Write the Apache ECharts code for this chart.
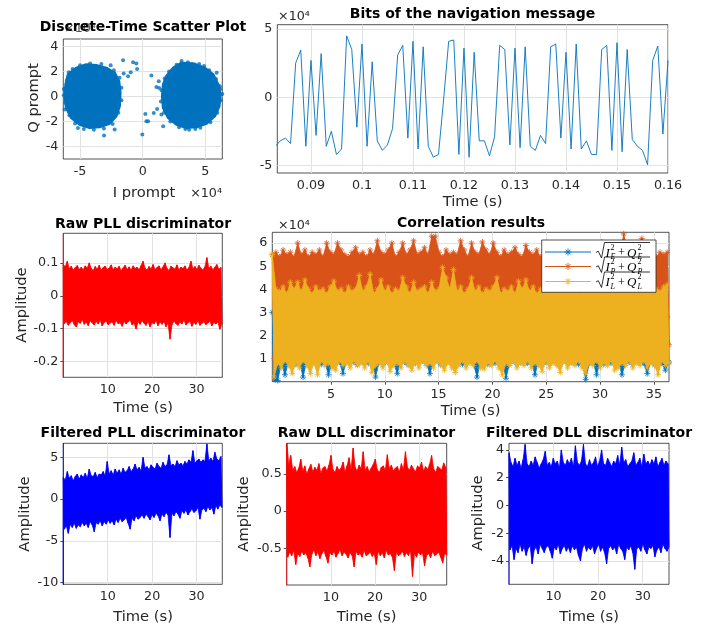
<!DOCTYPE html>
<html><head><meta charset="utf-8">
<script src="https://cdn.jsdelivr.net/npm/echarts@6/dist/echarts.min.js"></script>
<style>html,body{margin:0;padding:0;background:#fff}#c{width:702px;height:630px}</style>
</head><body><div id="c"></div>
<script>
// ---------------- DATA ----------------
// Scatter (units of 1e4): outlines of the two dense clusters + isolated points
const clusterLeft = [[-5.97,1.76],[-5.31,2.29],[-4.51,2.56],[-3.71,2.51],[-2.91,2.29],[-2.24,1.89],[-1.89,1.23],[-1.79,0.29],[-1.84,-0.77],[-2.11,-1.57],[-2.64,-2.16],[-3.44,-2.45],[-4.24,-2.51],[-5.04,-2.24],[-5.71,-1.71],[-6.11,-0.91],[-6.24,0.03],[-6.16,0.96]];
const clusterRight = [[1.89,1.63],[2.43,2.29],[3.09,2.69],[4.03,2.64],[4.96,2.29],[5.63,1.76],[6.03,0.96],[6.21,0.16],[6.11,-0.77],[5.76,-1.57],[5.09,-2.16],[4.29,-2.45],[3.49,-2.51],[2.69,-2.24],[2.03,-1.71],[1.63,-0.91],[1.55,0.03],[1.63,0.96]];
const scatterPoints = [[-1.57,2.91],[-2.56,2.51],[-1.52,1.84],[-1.17,1.63],[-0.77,2.75],[-0.51,2.64],[-0.96,1.95],[-0.45,2.21],[0.69,1.68],[1.28,1.23],[1.09,0.77],[1.31,0.69],[0.21,-1.39],[0.29,-1.97],[0.43,-1.97],[0.88,-1.31],[1.15,-0.99],[1.49,-1.44],[1.63,-2.37],[-0.03,-3.04],[-3.09,-3.12],[-2.24,-2.64],[-5.17,-2.51],[-6.3,0.1],[-6.24,-1.04],[6.16,0.83],[6.35,0.21],[6.0,-0.5],[4.2,-2.6],[3.4,-2.6],[5.9,1.9],[4.9,2.45],[3.1,2.85],
 [-5.9,1.95],[-6.05,1.3],[-6.3,0.6],[-6.2,-0.5],[-5.85,-1.5],[-5.4,-2.15],[-4.7,-2.6],[-3.9,-2.65],[-3.1,-2.55],[-2.4,-2.2],[-1.95,-1.3],[-1.7,-0.3],[-1.7,0.7],[-1.85,1.5],[-2.3,2.1],[-3.3,2.6],[-4.2,2.65],[-5.0,2.5],[-5.6,2.2],
 [1.75,1.45],[1.5,0.5],[1.45,-0.4],[1.7,-1.3],[2.2,-2.0],[2.9,-2.45],[3.7,-2.65],[4.6,-2.5],[5.4,-2.05],[5.95,-1.3],[6.25,-0.3],[6.2,0.6],[5.85,1.4],[5.3,2.1],[4.5,2.6],[3.6,2.75],[2.7,2.55],[2.1,2.0]];

// Navigation bits (units of 1e4), one sample per ms starting at 0.083 s
const navStart = 0.083, navStep = 0.001;
const navValues = [-3.6,-3.2,-3.0,-3.4,2.5,3.45,-3.6,2.7,-2.8,3.2,
 -3.6,-2.5,-4.2,-3.8,4.5,3.5,-2.2,3.9,-3.6,2.6,
 -3.2,-3.9,-3.5,-2.3,3.1,3.8,-3.0,4.1,-3.8,3.7,
 -3.6,-4.4,-4.2,-0.2,4.1,4.2,-4.2,3.6,-4.4,3.3,
 -3.2,-3.2,-4.3,-2.9,3.8,3.5,-3.5,3.6,-3.7,3.7,
 -3.6,-3.9,-2.8,-3.4,3.7,3.9,-3.0,3.3,-3.8,3.9,
 -3.8,-3.2,-4.2,-4.2,3.5,3.8,-3.9,4.0,-4.0,3.5,
 -3.1,-3.6,-3.9,-4.95,2.7,3.75,-2.7,2.7];

// Noise bands: per-column upper / lower extremes
const rawPllStart = [0.3,-0.3];
const rawPllUpper = [0.095,0.088,0.105,0.082,0.09,0.078,0.086,0.092,0.08,0.087,0.079,0.091,0.084,0.1,0.083,0.077,0.089,0.081,0.093,0.078,
 0.086,0.09,0.08,0.084,0.094,0.079,0.087,0.082,0.09,0.076,0.085,0.093,0.08,0.088,0.078,0.091,0.083,0.087,0.079,0.092,
 0.105,0.084,0.078,0.089,0.082,0.095,0.08,0.086,0.091,0.079,0.088,0.1,0.083,0.077,0.09,0.085,0.081,0.094,0.079,0.087,
 0.083,0.091,0.078,0.086,0.105,0.082,0.089,0.08,0.093,0.084,0.078,0.088,0.116,0.083,0.09,0.079,0.087,0.095,0.081,0.086];
const rawPllLower = [-0.085,-0.078,-0.09,-0.082,-0.075,-0.088,-0.095,-0.079,-0.084,-0.072,-0.087,-0.08,-0.091,-0.076,-0.083,-0.089,-0.078,-0.086,-0.074,-0.092,
 -0.081,-0.077,-0.088,-0.083,-0.079,-0.09,-0.075,-0.085,-0.082,-0.093,-0.078,-0.086,-0.08,-0.074,-0.089,-0.083,-0.101,-0.079,-0.087,-0.076,
 -0.084,-0.09,-0.078,-0.095,-0.082,-0.086,-0.075,-0.091,-0.08,-0.087,-0.079,-0.094,-0.083,-0.132,-0.088,-0.077,-0.085,-0.09,-0.08,-0.086,
 -0.074,-0.089,-0.082,-0.078,-0.093,-0.081,-0.087,-0.076,-0.09,-0.084,-0.079,-0.088,-0.083,-0.077,-0.092,-0.081,-0.086,-0.08,-0.102,-0.085];

const filtPllStart = [7,-10.6];
const filtPllUpper = [2.6,2.3,3.3,2.5,2.8,2.2,2.7,3.0,2.4,2.9,
 2.6,3.1,2.5,3.6,2.8,2.7,3.2,2.6,3.0,2.9,
 3.3,2.8,4.5,3.0,3.4,2.9,3.6,3.1,3.5,3.0,
 3.7,3.2,3.4,3.9,3.3,3.6,4.2,3.5,3.8,3.4,
 5.0,3.7,3.9,3.5,4.1,3.8,3.6,4.3,3.9,3.7,
 4.4,3.9,4.1,5.3,4.0,4.2,3.9,4.6,4.1,4.3,
 4.0,4.5,4.2,4.7,4.4,5.8,4.3,4.6,4.8,4.4,
 4.7,4.5,6.6,4.6,4.9,4.5,5.6,4.8,4.6,5.1];
const filtPllLower = [-3.6,-3.2,-4.1,-3.0,-3.4,-2.9,-3.5,-3.1,-3.3,-2.8,
 -3.2,-2.9,-3.4,-2.7,-3.1,-3.9,-2.8,-3.0,-2.6,-3.2,
 -2.7,-3.0,-2.5,-2.9,-2.6,-3.1,-2.4,-2.8,-2.3,-2.7,
 -2.5,-2.2,-2.9,-3.6,-2.3,-2.6,-2.0,-2.4,-2.2,-1.9,
 -2.3,-1.8,-2.1,-2.5,-1.9,-2.2,-1.7,-2.0,-2.6,-1.8,
 -2.1,-1.6,-1.9,-4.6,-1.7,-2.0,-1.5,-1.8,-2.3,-1.4,
 -1.7,-1.3,-1.9,-1.5,-1.2,-1.6,-1.4,-1.0,-2.4,-1.3,
 -1.1,-1.5,-0.9,-1.3,-1.0,-1.8,-0.8,-1.2,-0.7,-1.0];

const rawDllStart = [-1.1];
const rawDllUpper = [0.95,0.62,0.75,0.55,0.6,0.52,0.58,0.7,0.54,0.61,
 0.5,0.57,0.63,0.53,0.59,0.55,0.64,0.51,0.58,0.6,
 0.54,0.62,0.75,0.56,0.52,0.6,0.55,0.58,0.66,0.53,
 0.61,0.72,0.56,0.85,0.59,0.54,0.62,0.57,0.8,0.55,
 0.6,0.53,0.58,0.63,0.7,0.56,0.52,0.59,0.61,0.55,
 0.76,0.57,0.62,0.54,0.58,0.6,0.53,0.64,0.56,0.8,
 0.59,0.55,0.62,0.57,0.53,0.61,0.58,0.66,0.54,0.6,
 0.56,0.63,0.75,0.57,0.52,0.6,0.58,0.55,0.65,0.59];
const rawDllLower = [-0.62,-0.55,-0.6,-0.53,-0.72,-0.57,-0.61,-0.54,-0.59,-0.56,
 -0.63,-0.75,-0.58,-0.52,-0.6,-0.55,-0.64,-0.57,-0.53,-0.61,
 -0.7,-0.56,-0.59,-0.54,-0.62,-0.57,-0.52,-0.6,-0.55,-0.58,
 -0.63,-0.56,-0.6,-0.75,-0.54,-0.59,-0.57,-0.62,-0.53,-0.6,
 -0.58,-0.55,-0.61,-0.57,-0.72,-0.54,-0.6,-0.56,-0.63,-0.53,
 -0.59,-0.57,-0.62,-0.8,-0.55,-0.6,-0.58,-0.54,-0.61,-0.56,
 -0.6,-0.53,-0.88,-0.57,-0.62,-0.55,-0.59,-0.56,-0.74,-0.6,
 -0.57,-0.63,-0.54,-0.6,-0.58,-0.55,-0.62,-0.7,-0.57,-0.59];

const filtDllStart = [-6];
const filtDllUpper = [3.8,3.1,2.8,3.4,2.9,3.2,2.7,3.3,4.4,3.0,
 2.8,3.2,2.9,3.5,3.1,2.7,3.0,3.3,3.9,2.9,
 3.1,2.8,3.4,3.0,3.2,2.7,4.0,3.1,2.9,3.3,
 3.0,3.4,2.8,4.3,3.1,2.9,3.2,4.4,3.0,2.8,
 3.3,2.9,3.1,3.5,2.8,3.2,4.0,3.0,2.9,3.4,
 3.1,2.8,3.2,3.0,3.6,2.9,4.2,3.1,3.3,2.8,
 3.0,3.2,3.8,2.9,3.1,3.4,2.8,3.7,3.0,3.2,
 2.9,3.3,3.0,3.5,2.8,3.1,3.4,2.9,3.2,3.0];
const filtDllLower = [-3.2,-2.9,-3.9,-3.1,-3.4,-2.8,-3.3,-3.0,-3.6,-3.1,
 -2.9,-4.2,-3.2,-3.0,-3.5,-2.8,-3.1,-3.4,-3.0,-2.9,
 -3.3,-3.8,-3.0,-3.2,-2.8,-3.5,-3.1,-2.9,-3.3,-3.0,
 -3.4,-2.9,-3.2,-3.0,-3.6,-4.0,-3.1,-2.8,-3.3,-3.0,
 -3.2,-2.9,-3.5,-3.1,-2.8,-3.3,-3.0,-3.4,-4.2,-3.1,
 -2.9,-3.2,-3.0,-3.5,-2.8,-3.1,-3.3,-3.9,-3.0,-3.2,
 -2.9,-3.4,-4.6,-3.1,-3.0,-3.3,-2.8,-3.2,-3.5,-3.0,
 -3.1,-2.9,-3.7,-3.2,-3.0,-3.4,-2.8,-3.1,-3.3,-3.0];

// Correlation results (units of 1e4)
const corrEUpper = [3.0,3.5,3.4,3.6,3.3,3.5,3.7,3.4,3.6,3.3,
 3.5,3.6,3.4,3.7,3.3,3.5,3.4,3.6,3.5,3.3,
 3.6,3.4,3.5,3.7,3.3,3.6,3.4,3.5,3.6,3.3,
 3.5,3.7,3.4,3.6,3.3,3.5,3.4,3.6,3.7,3.4,
 3.5,3.3,3.6,3.4,3.5,3.7,3.3,3.6,3.4,3.5,
 3.6,3.4,3.3,3.5,3.7,3.4,3.6,3.5,3.3,3.6,
 3.4,3.5,3.7,3.3,3.6,3.4,3.5,3.6,3.3,3.5,
 3.7,3.4,3.6,3.5,3.3,3.6,3.4,3.5,3.7,3.3,
 3.5,3.6,3.4,3.5,3.3,3.7,3.4,3.6,3.5,3.3,
 3.6,3.4,3.5,3.7,3.3,3.5,3.6,3.4,3.5,3.6,
 3.4,3.5,3.3,3.7,3.5,3.4,3.6,3.5,3.0,2.8];
const corrELower = [-0.2,0.05,0.8,0.3,0.85,0.9,0.75,0.85,0.2,0.9,
 0.8,0.85,0.9,0.75,0.85,0.3,0.8,0.9,0.85,0.35,
 0.9,0.8,0.85,0.75,0.9,0.85,0.8,0.9,0.2,0.85,
 0.75,0.9,0.85,0.8,0.35,0.9,0.85,0.75,0.9,0.8,
 0.85,0.9,0.8,0.35,0.85,0.9,0.75,0.8,0.9,0.85,
 0.8,0.9,0.75,0.85,0.9,0.8,0.2,0.85,0.9,0.75,
 0.85,0.8,0.9,0.85,0.15,0.8,0.9,0.75,0.85,0.9,
 0.8,0.85,0.3,0.9,0.75,0.85,0.8,0.9,0.85,0.75,
 0.9,0.8,0.85,0.9,0.75,0.85,0.1,0.8,0.9,0.3,
 0.85,0.75,0.9,0.8,0.85,0.9,0.3,0.8,0.85,0.75,
 0.9,0.85,0.8,0.35,0.9,0.75,0.85,0.8,0.5,0.85];
const corrPUpper = [5.5,5.6,5.4,5.7,5.5,5.6,5.4,6.0,5.5,5.7,
 5.4,5.6,5.5,5.7,5.4,6.0,5.6,5.5,6.0,5.7,
 5.5,5.4,5.6,5.8,5.5,5.6,5.4,5.7,5.5,6.1,
 5.6,5.5,5.7,6.0,5.4,5.6,6.0,5.5,5.7,6.1,
 5.5,5.6,5.8,5.5,6.3,6.3,5.6,5.4,5.7,5.5,
 5.6,5.5,6.1,5.7,5.4,6.0,5.6,5.5,6.05,5.7,
 5.5,6.0,5.6,5.4,5.7,5.5,5.6,5.8,5.5,5.4,
 5.9,5.6,5.5,5.7,5.4,5.6,5.5,5.7,5.6,5.4,
 5.5,5.7,5.6,5.4,5.5,5.8,5.6,5.5,6.0,5.4,
 5.6,6.05,5.5,5.7,5.4,5.6,5.5,6.4,5.6,5.5,
 5.7,5.4,6.2,5.6,5.5,5.7,5.4,5.6,5.5,5.6];
const corrPLower = [1.0,2.1,1.8,2.4,1.9,2.2,1.7,2.3,2.0,1.8,
 2.2,1.9,2.4,1.7,2.1,2.0,2.3,1.8,2.2,1.9,
 2.0,2.4,1.8,2.1,1.9,2.3,1.7,2.2,2.0,1.8,
 2.3,1.9,2.1,2.4,1.8,2.0,2.2,1.9,2.3,1.7,
 2.1,2.0,1.8,2.2,1.9,2.4,2.0,1.8,2.1,2.3,
 1.9,2.2,1.7,2.0,2.3,1.8,2.1,1.9,2.4,2.0,
 1.8,2.2,2.0,1.9,2.3,1.7,2.1,2.0,1.8,2.2,
 2.0,1.9,2.3,1.8,2.1,2.2,1.9,2.0,2.4,1.8,
 2.1,2.0,1.8,2.3,1.9,2.2,2.0,1.7,2.1,2.3,
 1.9,2.0,2.2,1.8,2.1,2.4,1.9,2.0,1.8,2.2,
 2.0,2.3,1.9,2.1,1.8,2.2,2.0,1.9,2.1,1.6];
const corrLUpper = [5.5,4.0,3.9,4.1,3.8,4.3,4.0,4.3,3.9,4.4,
 4.0,3.8,4.1,3.9,4.0,3.8,4.1,4.35,3.9,4.0,
 3.8,4.1,3.9,4.0,4.6,3.9,4.1,4.65,3.8,4.0,
 4.4,3.9,4.1,3.8,4.0,3.9,4.5,4.1,3.8,4.3,
 3.9,4.0,4.1,3.8,4.3,3.9,4.0,4.95,4.5,4.0,
 4.85,3.9,4.1,3.8,4.0,4.5,3.9,4.1,3.8,4.0,
 3.9,4.1,4.5,3.8,4.0,3.9,4.1,3.8,4.35,4.0,
 4.4,3.9,4.1,3.8,4.0,3.9,4.1,3.8,4.0,3.9,
 4.1,3.8,4.0,3.9,4.1,3.8,4.0,3.9,4.1,3.8,
 4.0,3.9,4.1,3.8,4.0,3.9,4.1,3.8,4.0,3.9,
 4.1,3.8,4.0,3.9,4.1,3.8,4.0,3.9,4.1,4.2];
const corrLLower = [0.2,0.8,0.6,0.9,0.7,0.35,0.8,0.6,0.9,0.7,
 0.35,0.8,0.3,0.9,0.7,0.8,0.6,0.5,0.9,0.7,
 0.8,0.6,0.9,0.7,0.8,0.6,0.9,0.4,0.7,0.8,
 0.6,0.9,0.45,0.7,0.8,0.6,0.9,0.7,0.5,0.8,
 0.6,0.9,0.7,0.8,0.6,0.9,0.7,0.5,0.8,0.6,
 0.4,0.7,0.9,0.6,0.8,0.7,0.9,0.6,0.55,0.8,
 0.7,0.9,0.6,0.3,0.8,0.7,0.9,0.6,0.8,0.7,
 0.9,0.6,0.8,0.7,0.45,0.9,0.6,0.8,0.7,0.4,
 0.9,0.6,0.8,0.7,0.9,0.6,0.35,0.8,0.7,0.9,
 0.6,0.8,0.7,0.9,0.5,0.6,0.8,0.7,0.9,0.6,
 0.8,0.7,0.9,0.6,0.8,0.7,0.3,0.9,0.7,0.8];

// Axis ticks
const xTicks = [[-5,0,5],[0.09,0.1,0.11,0.12,0.13,0.14,0.15,0.16],[10,20,30],[5,10,15,20,25,30,35],[10,20,30],[10,20,30],[10,20,30]];
const yTicks = [[-4,-2,0,2,4],[-5,0,5],[-0.2,-0.1,0,0.1],[1,2,3,4,5,6],[-10,-5,0,5],[-0.5,0,0.5],[-4,-2,0,2,4]];
const xRanges = [[-6.34,6.35],[0.0834,0.16],[0,35.8],[-0.45,36.4],[0,35.8],[0,36.2],[0,35.9]];
const yRanges = [[-5,4.6],[-5.56,5.32],[-0.248,0.19],[0,6.47],[-10.2,6.68],[-0.995,0.914],[-5.68,4.48]];
const titles = ['Discrete-Time Scatter Plot','Bits of the navigation message','Raw PLL discriminator','Correlation results','Filtered PLL discriminator','Raw DLL discriminator','Filtered DLL discriminator'];

// ---------------- LAYOUT ----------------
const INK = '#262626';
const FONT = '"DejaVu Sans", sans-serif';
const BLUE = '#0072BD', ORANGE = '#D95319', YELLOW = '#EDB120';
const G = [
 {l:63.3,t:39,w:159,h:120},
 {l:277.3,t:24.7,w:390.7,h:148.3},
 {l:63.3,t:233.3,w:159,h:144},
 {l:272.3,t:232.3,w:396.7,h:149.4},
 {l:63.3,t:443.3,w:159,h:141},
 {l:286.7,t:443.3,w:160,h:141.7},
 {l:509,t:443.3,w:160,h:141}
];

const grid = [], xAxis = [], yAxis = [], series = [];
G.forEach((r, g) => {
  grid.push({left:r.l, top:r.t, width:r.w, height:r.h, show:true, backgroundColor:'#fff', borderColor:INK, borderWidth:0.8, containLabel:false, outerBoundsMode:'none'});
  const tickStyle = {inside:true, length:3, lineStyle:{color:INK, width:0.8}};
  const lab = {fontFamily:FONT, fontSize:12.7, color:INK, formatter:v=>String(v)};
  xAxis.push({type:'value', gridIndex:g, position:'bottom', min:xRanges[g][0], max:xRanges[g][1],
    axisLine:{show:false}, splitLine:{show:false},
    axisTick:Object.assign({customValues:xTicks[g]}, tickStyle),
    axisLabel:Object.assign({customValues:xTicks[g], margin:6}, lab)});
  xAxis.push({type:'value', gridIndex:g, position:'top', min:xRanges[g][0], max:xRanges[g][1],
    axisLine:{show:false}, splitLine:{show:false}, axisLabel:{show:false},
    axisTick:Object.assign({customValues:xTicks[g]}, tickStyle)});
  yAxis.push({type:'value', gridIndex:g, position:'left', min:yRanges[g][0], max:yRanges[g][1],
    axisLine:{show:false}, splitLine:{show:false},
    axisTick:Object.assign({customValues:yTicks[g]}, tickStyle),
    axisLabel:Object.assign({customValues:yTicks[g], margin:5}, lab)});
  yAxis.push({type:'value', gridIndex:g, position:'right', min:yRanges[g][0], max:yRanges[g][1],
    axisLine:{show:false}, splitLine:{show:false}, axisLabel:{show:false},
    axisTick:Object.assign({customValues:yTicks[g]}, tickStyle)});
  // grid lines (behind the data)
  series.push({type:'line', xAxisIndex:2*g, yAxisIndex:2*g, z:1, silent:true, showSymbol:false,
    data:[[xTicks[g][0], yTicks[g][0]]], lineStyle:{width:0},
    markLine:{z:1, silent:true, symbol:['none','none'], label:{show:false}, animation:false,
      lineStyle:{color:'#e2e2e2', width:1, type:'solid'}, emphasis:{disabled:true},
      data:[...xTicks[g].map(v=>({xAxis:v})), ...yTicks[g].map(v=>({yAxis:v}))]}});
});

// zig-zag through the per-column extremes
function bandPoints(t0, t1, upper, lower) {
  const n = Math.min(upper.length, lower.length);
  const dt = (t1 - t0) / (n - 0.5);
  const top = [], bot = [];
  for (let i = 0; i < n; i++) { top.push([t0 + i*dt, upper[i]]); bot.push([t0 + (i+0.5)*dt, lower[i]]); }
  return {top, bot};
}
function addBand(g, t0, t1, upper, lower, start, color, z, extra) {
  const {top, bot} = bandPoints(t0, t1, upper, lower);
  const outline = top.concat(bot.slice().reverse());
  series.push({type:'custom', xAxisIndex:2*g, yAxisIndex:2*g, z, silent:true, clip:true, data:[0],
    renderItem:(p, api) => ({type:'polygon', shape:{points:outline.map(pt => api.coord(pt))},
      style:{fill:color, stroke:color, lineWidth:0.8}})});
  const zig = [];
  (start || []).forEach(v => zig.push([t0, v]));
  top.forEach((pt, i) => { zig.push(pt); zig.push(bot[i]); });
  series.push(Object.assign({type:'line', xAxisIndex:2*g, yAxisIndex:2*g, z, silent:true, showSymbol:false,
    data:zig, lineStyle:{color, width:0.8}, emphasis:{disabled:true}, clip:true}, extra || {}));
}

// 1 scatter
series.push({type:'custom', xAxisIndex:0, yAxisIndex:0, z:2, silent:true, data:[0], clip:true,
  renderItem:(p, api) => ({type:'group', children:[clusterLeft, clusterRight].map(b => ({
    type:'polygon', shape:{points:b.map(pt => api.coord(pt))},
    style:{fill:BLUE, stroke:BLUE, lineWidth:2.5, lineJoin:'round'}}))})});
series.push({type:'scatter', xAxisIndex:0, yAxisIndex:0, z:3, silent:true, symbolSize:4,
  itemStyle:{color:BLUE}, data:scatterPoints});
// 2 nav bits
series.push({type:'line', xAxisIndex:2, yAxisIndex:2, z:2, silent:true, showSymbol:false,
  data:navValues.map((v,i)=>[navStart + i*navStep, v]), lineStyle:{color:BLUE, width:0.9}});
// 3 raw PLL
addBand(2, 0, 35.7, rawPllUpper, rawPllLower, rawPllStart, '#ff0000', 2);
// 4 correlation
const STAR = 'path://M4,0L4,8M0,4L8,4M1.2,1.2L6.8,6.8M1.2,6.8L6.8,1.2';
[[corrEUpper, corrELower, BLUE, 2],[corrPUpper, corrPLower, ORANGE, 3],[corrLUpper, corrLLower, YELLOW, 4]].forEach(([u,l,c,z]) => {
  addBand(3, -0.45, 36.4, u, l, null, c, z, {symbol:STAR, symbolSize:6, showSymbol:true, showAllSymbol:true,
    itemStyle:{color:c, borderColor:c, borderWidth:0.8}});
});
// 5 filtered PLL
addBand(4, 0, 35.7, filtPllUpper, filtPllLower, filtPllStart, '#0000ff', 2);
// 6 raw DLL
addBand(5, 0, 36.2, rawDllUpper, rawDllLower, rawDllStart, '#ff0000', 2);
// 7 filtered DLL
addBand(6, 0, 35.9, filtDllUpper, filtDllLower, filtDllStart, '#0000ff', 2);

// ---------------- TEXT / LEGEND ----------------
const graphic = [];
function txt(text, x, y, o) {
  o = o || {};
  graphic.push({type:'text', x, y, rotation:o.rot || 0, z:o.z || 50, silent:true,
    style:{text, fill:o.color || INK, font:o.font || ('14.7px ' + FONT),
      textAlign:o.align || 'center', textVerticalAlign:'middle', verticalAlign:'middle'}});
}
const EXP = '\u00d710\u2074';
txt(EXP, 64, 29, {font:'12.7px ' + FONT, align:'left', z:40, color:'#555'});
txt(EXP, 222, 194, {font:'12.7px ' + FONT, align:'right'});
txt(EXP, 278, 16.5, {font:'12.7px ' + FONT, align:'left'});
txt(EXP, 278, 225.5, {font:'12.7px ' + FONT, align:'left'});
const titlePos = [[143,27.5],[472.5,14.5],[143,224.5],[471,223],[143,433],[366.5,433],[589,433]];
titles.forEach((t,i) => txt(t, titlePos[i][0], titlePos[i][1], {font:'bold 14px ' + FONT, color:'#000', z:60}));
txt('Q prompt', 34, 98, {rot:Math.PI/2});
txt('I prompt', 144, 193);
txt('Time (s)', 472.5, 202);
txt('Amplitude', 21.7, 305, {rot:Math.PI/2});
txt('Time (s)', 143, 408.5);
txt('Time (s)', 470.5, 411);
txt('Amplitude', 25.5, 514, {rot:Math.PI/2});
txt('Time (s)', 143, 617);
txt('Amplitude', 244, 514, {rot:Math.PI/2});
txt('Time (s)', 366.5, 617);
txt('Amplitude', 478.5, 513, {rot:Math.PI/2});
txt('Time (s)', 589, 617);

// legend of correlation plot
graphic.push({type:'rect', z:80, silent:true, shape:{x:541.7, y:240, width:114.3, height:52.3},
  style:{fill:'#fff', stroke:INK, lineWidth:0.8}});
const legendItems = [['E', BLUE, 252],['P', ORANGE, 266.5],['L', YELLOW, 281.5]];
const SERIF = '"Liberation Serif", "DejaVu Serif", serif';
legendItems.forEach(([sub, c, yc]) => {
  graphic.push({type:'line', z:81, silent:true, shape:{x1:545, y1:yc, x2:591, y2:yc}, style:{stroke:c, lineWidth:1}});
  const cx = 568, r = 3.5, d = 2.5;
  [[cx, yc-r, cx, yc+r],[cx-r, yc, cx+r, yc],[cx-d, yc-d, cx+d, yc+d],[cx-d, yc+d, cx+d, yc-d]].forEach(s =>
    graphic.push({type:'line', z:82, silent:true, shape:{x1:s[0], y1:s[1], x2:s[2], y2:s[3]}, style:{stroke:c, lineWidth:0.9}}));
  graphic.push({type:'polyline', z:82, silent:true,
    shape:{points:[[596,yc+0.5],[598.3,yc-0.8],[601.5,yc+6],[604.5,yc-9.5],[650,yc-9.5]]},
    style:{stroke:'#000', lineWidth:0.8, fill:null}});
  txt('I', 605.5, yc+1.5, {font:'italic 13px ' + SERIF, align:'left', color:'#000', z:83});
  txt('2', 610.5, yc-4.2, {font:'8px ' + SERIF, align:'left', color:'#000', z:83});
  txt(sub, 610.5, yc+5, {font:'italic 8px ' + SERIF, align:'left', color:'#000', z:83});
  txt('+', 621.5, yc+1, {font:'12px ' + SERIF, color:'#000', z:83});
  txt('Q', 627, yc+1.5, {font:'italic 13px ' + SERIF, align:'left', color:'#000', z:83});
  txt('2', 637.5, yc-4.2, {font:'8px ' + SERIF, align:'left', color:'#000', z:83});
  txt(sub, 637.5, yc+5, {font:'italic 8px ' + SERIF, align:'left', color:'#000', z:83});
});

const chart = echarts.init(document.getElementById('c'), null, {renderer:'canvas'});
chart.setOption({animation:false, textStyle:{fontFamily:FONT}, grid, xAxis, yAxis, series, graphic});
</script></body></html>
